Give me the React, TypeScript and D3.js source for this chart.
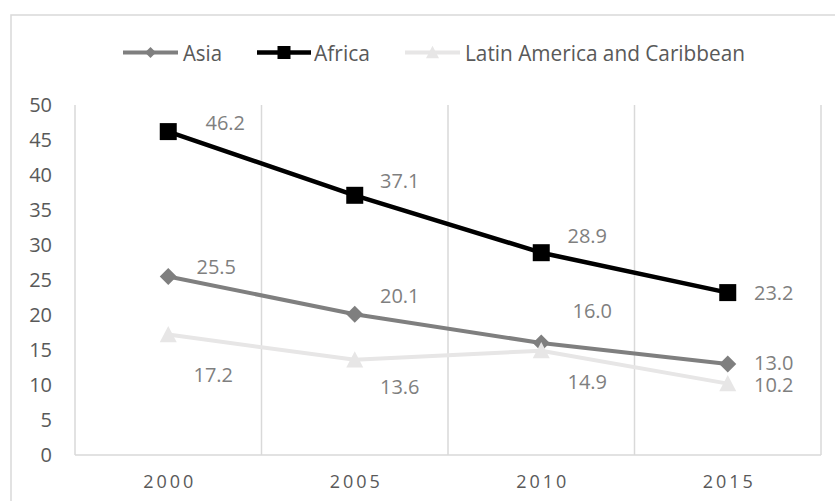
import React from "react";
import * as d3 from "d3";

// Category axis and series values
const years = ["2000", "2005", "2010", "2015"];
const asia = [25.5, 20.1, 16.0, 13.0];
const africa = [46.2, 37.1, 28.9, 23.2];
const latinAmerica = [17.2, 13.6, 14.9, 10.2];
const yTicks = [0, 5, 10, 15, 20, 25, 30, 35, 40, 45, 50];

// Data-label placement relative to each point (dx, dy in px)
const asiaLabelOffsets: [number, number][] = [[48, -10], [45, -19], [51, -32], [46, -1]];
const africaLabelOffsets: [number, number][] = [[57, -9], [45, -15], [46, -17], [46, 0]];
const latinLabelOffsets: [number, number][] = [[45, 40], [45, 27], [46, 31], [46, 1.5]];

const W = 835;
const H = 501;
const FONT = "'Open Sans', 'Liberation Sans', sans-serif";

type Marker = "diamond" | "square" | "triangle";

const series = [
  { name: "Asia", values: asia, color: "#7f7f7f", width: 4, marker: "diamond" as Marker, offsets: asiaLabelOffsets },
  { name: "Africa", values: africa, color: "#000000", width: 4.5, marker: "square" as Marker, offsets: africaLabelOffsets },
  { name: "Latin America and Caribbean", values: latinAmerica, color: "#e7e6e6", width: 4, marker: "triangle" as Marker, offsets: latinLabelOffsets },
];

function markerPath(kind: Marker, size: number): string {
  const h = size / 2;
  if (kind === "diamond") return `M0,${-h}L${h},0L0,${h}L${-h},0Z`;
  if (kind === "square") return `M${-h},${-h}H${h}V${h}H${-h}Z`;
  const th = size * 0.9;
  return `M0,${-th / 2 - 1}L${h},${th / 2}L${-h},${th / 2}Z`;
}

export default function App() {
  const x = d3.scaleBand<string>().domain(years).range([75, 821]).paddingInner(0).paddingOuter(0);
  const y = d3.scaleLinear().domain([0, 50]).range([455, 105]);
  const cx = (yr: string) => (x(yr) as number) + x.bandwidth() / 2;

  const line = d3
    .line<number>()
    .x((_, i) => cx(years[i]))
    .y((d) => y(d));

  const boundaries = years.map((yr) => x(yr) as number).concat([821]);

  // legend layout
  const legend = [
    { lineX: [123, 178], textX: 183, textLen: 39, size: 11 },
    { lineX: [257, 311], textX: 314, textLen: 56, size: 13 },
    { lineX: [405, 460], textX: 465, textLen: 280, size: 13 },
  ];

  return (
    <svg
      width={W}
      height={H}
      viewBox={`0 0 ${W} ${H}`}
      style={{ position: "absolute", left: 0, top: 0, background: "#fff" }}
    >
      <rect x={0} y={0} width={W} height={H} fill="#fff" />
      {/* chart frame */}
      <rect x={11} y={15} width={W + 10} height={H + 10} fill="none" stroke="#d9d9d9" strokeWidth={1.5} />

      {/* legend */}
      {series.map((s, i) => {
        const l = legend[i];
        const my = 52.5;
        return (
          <g key={s.name}>
            <line x1={l.lineX[0]} x2={l.lineX[1]} y1={my} y2={my} stroke={s.color} strokeWidth={s.width} />
            <path
              d={markerPath(s.marker, l.size)}
              transform={`translate(${(l.lineX[0] + l.lineX[1]) / 2},${my})`}
              fill={s.color}
            />
            <text
              x={l.textX}
              y={61}
              fontFamily={FONT}
              fontSize={22.5}
              fill="#595959"
              textLength={l.textLen}
              lengthAdjust="spacingAndGlyphs"
            >
              {s.name}
            </text>
          </g>
        );
      })}

      {/* vertical category gridlines */}
      {boundaries.map((bx, i) => (
        <line key={i} x1={bx} x2={bx} y1={105} y2={455} stroke="#d9d9d9" strokeWidth={1.5} />
      ))}
      {/* category axis line */}
      <line x1={75} x2={821} y1={455} y2={455} stroke="#d9d9d9" strokeWidth={1.5} />

      {/* y tick labels */}
      {yTicks.map((t) => (
        <text
          key={t}
          x={52}
          y={y(t)}
          dy="0.36em"
          textAnchor="end"
          fontFamily={FONT}
          fontSize={20}
          fill="#595959"
        >
          {t}
        </text>
      ))}

      {/* x tick labels */}
      {years.map((yr) => (
        <text
          key={yr}
          x={cx(yr) + 1.5}
          y={482}
          dy="0.36em"
          textAnchor="middle"
          fontFamily={FONT}
          fontSize={18}
          letterSpacing={3}
          fill="#595959"
        >
          {yr}
        </text>
      ))}

      {/* series lines and markers */}
      {series.map((s) => (
        <g key={s.name}>
          <path d={line(s.values) as string} fill="none" stroke={s.color} strokeWidth={s.width} strokeLinejoin="round" />
          {s.values.map((v, i) => (
            <path
              key={i}
              d={markerPath(s.marker, 17)}
              transform={`translate(${cx(years[i])},${y(v)})`}
              fill={s.color}
            />
          ))}
        </g>
      ))}

      {/* data labels */}
      {series.map((s) =>
        s.values.map((v, i) => (
          <text
            key={s.name + i}
            x={cx(years[i]) + s.offsets[i][0]}
            y={y(v) + s.offsets[i][1]}
            dy="0.36em"
            textAnchor="middle"
            fontFamily={FONT}
            fontSize={20}
            fill="#7f7f7f"
          >
            {v.toFixed(1)}
          </text>
        ))
      )}
    </svg>
  );
}
